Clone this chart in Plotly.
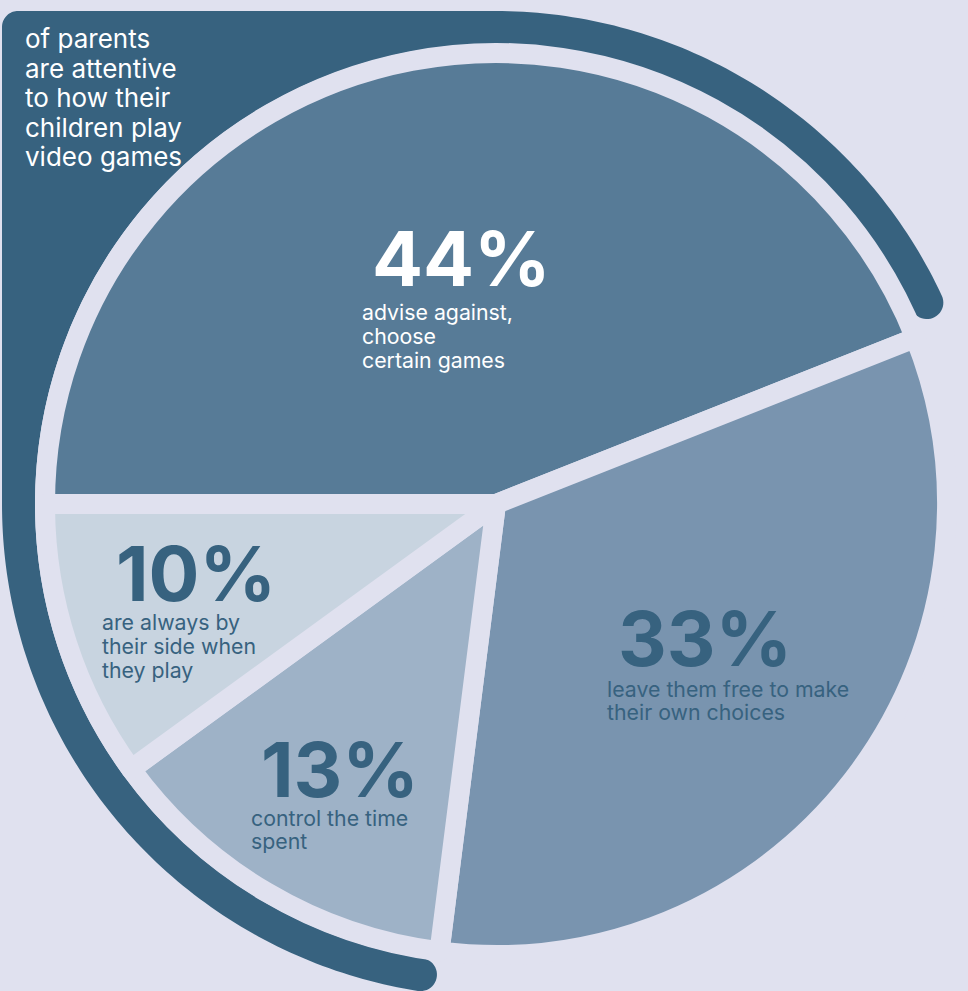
import numpy as np
import plotly.graph_objects as go

# ---------------- data ----------------
categories = [
    "advise against, choose certain games",
    "leave them free to make their own choices",
    "control the time spent",
    "are always by their side when they play",
]
shares = [44, 33, 13, 10]
pct_labels = ["44%", "33%", "13%", "10%"]
label_lines = [
    ["advise against,", "choose", "certain games"],
    ["leave them free to make", "their own choices"],
    ["control the time", "spent"],
    ["are always by", "their side when", "they play"],
]
headline_lines = ["of parents", "are attentive", "to how their",
                  "children play", "video games"]

# ---------------- style / layout ----------------
W, H = 968, 991
BG = "#E0E1EF"
DARK = "#37627F"
slice_colors = ["#577B97", "#7994AF", "#9EB2C7", "#C8D4E0"]
text_colors = ["#FFFFFF", DARK, DARK, DARK]
FONT = "Inter"

# pie geometry (pixels)
CX, CY, R = 496, 504, 451
GAP = 20

# label positions (pixels): number centre, first label baseline
num_pos = [(370, 258.5), (616, 638.5), (259, 769.5), (114, 573.5)]
label_pos = [(360, 320), (605, 697), (249, 826), (100, 630)]
label_step = [24, 23, 23, 24]
NUM_SIZE = 75.5
LAB_SIZE = 21.3
HEAD_SIZE = 26
HEAD_X, HEAD_BASE, HEAD_STEP = 23, 48, 29.5


def px(x):
    return x / W


def py(y):
    return 1 - y / H


fig = go.Figure()
fig.add_trace(go.Pie(
    labels=categories,
    values=shares,
    sort=False,
    direction="clockwise",
    rotation=-90,
    marker=dict(colors=slice_colors, line=dict(color=BG, width=GAP)),
    textinfo="none",
    hoverinfo="label+percent",
    showlegend=False,
    domain=dict(x=[px(CX - R), px(CX + R)], y=[py(CY + R), py(CY - R)]),
))

# ---------------- decorative dark arc with filled corner ----------------
R_IN, R_OUT = 460, 493
T = R_OUT - R_IN
R_MID = (R_IN + R_OUT) / 2
A1, A2 = 25.0, 261.0
RC = 16
RCX = 495  # centre of the decorative ring


def pol(r, a_deg):
    a = np.radians(a_deg)
    return (RCX + r * np.cos(a), CY - r * np.sin(a))


pts = []
for a in np.linspace(A1, 90, 80):
    pts.append(pol(R_OUT, a))
top_y = CY - R_OUT
left_x = RCX - R_OUT
ccx, ccy = left_x + RC, top_y + RC
for th in np.linspace(90, 180, 20):
    t = np.radians(th)
    pts.append((ccx + RC * np.cos(t), ccy - RC * np.sin(t)))
for a in np.linspace(180, A2, 100):
    pts.append(pol(R_OUT, a))


def cap(a_deg, phis):
    a = np.radians(a_deg)
    u = np.array([np.cos(a), np.sin(a)])
    v = np.array([-np.sin(a), np.cos(a)])
    mx, my = R_MID * u
    out = []
    for ph in phis:
        d = (T / 2) * (np.cos(ph) * u + np.sin(ph) * v)
        out.append((RCX + mx + d[0], CY - (my + d[1])))
    return out


pts += cap(A2, np.linspace(0, np.pi, 24))
for a in np.linspace(A2, A1, 240):
    pts.append(pol(R_IN, a))
pts += cap(A1, np.linspace(np.pi, 2 * np.pi, 24))

path = "M " + " L ".join(f"{px(x):.5f},{py(y):.5f}" for x, y in pts) + " Z"
fig.add_shape(type="path", path=path, xref="paper", yref="paper",
              fillcolor=DARK, line=dict(width=0), layer="below")

# ---------------- texts ----------------
anns = []
for i in range(len(shares)):
    nx, ny = num_pos[i]
    anns.append(dict(x=px(nx), y=py(ny), xref="paper", yref="paper",
                     text=pct_labels[i], showarrow=False,
                     xanchor="left", yanchor="middle",
                     font=dict(family=FONT, size=NUM_SIZE, weight=700,
                               color=text_colors[i])))
    lx, ly = label_pos[i]
    for j, line in enumerate(label_lines[i]):
        base = ly + j * label_step[i]
        anns.append(dict(x=px(lx), y=py(base - 0.3635 * LAB_SIZE),
                         xref="paper", yref="paper", text=line,
                         showarrow=False, xanchor="left", yanchor="middle",
                         font=dict(family=FONT, size=LAB_SIZE,
                                   color=text_colors[i])))

for j, line in enumerate(headline_lines):
    base = HEAD_BASE + j * HEAD_STEP
    anns.append(dict(x=px(HEAD_X), y=py(base - 0.3635 * HEAD_SIZE),
                     xref="paper", yref="paper", text=line,
                     showarrow=False, xanchor="left", yanchor="middle",
                     font=dict(family=FONT, size=HEAD_SIZE, color="#FFFFFF")))

fig.update_layout(
    width=W, height=H,
    margin=dict(l=0, r=0, t=0, b=0),
    paper_bgcolor=BG, plot_bgcolor=BG,
    annotations=anns,
    showlegend=False,
)

fig.write_html("out.html")
